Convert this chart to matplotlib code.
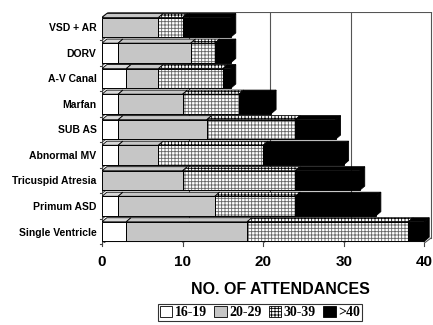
import matplotlib.pyplot as plt
from matplotlib.patches import Polygon, Patch

plt.rcParams['font.family'] = ['Liberation Sans', 'DejaVu Sans']
plt.rcParams['hatch.linewidth'] = 0.6

# attendances per diagnosis, split by age group
diagnoses = ['Single Ventricle', 'Primum ASD', 'Tricuspid Atresia', 'Abnormal MV',
             'SUB AS', 'Marfan', 'A-V Canal', 'DORV', 'VSD + AR']
age_16_19 = [3, 2, 0, 2, 2, 2, 3, 2, 0]
age_20_29 = [15, 12, 10, 5, 11, 8, 4, 9, 7]
age_30_39 = [20, 10, 14, 13, 11, 7, 8, 3, 3]
age_over_40 = [2, 10, 8, 10, 5, 4, 1, 2, 6]
groups = ['16-19', '20-29', '30-39', '>40']
x_ticks = [0, 10, 20, 30, 40]

# face colour / hatch for each age group
styles = [('white', None), ('#c6c6c6', None), ('white', '+++++'), ('black', None)]

H = 0.76          # bar thickness
DX, DY = 0.6, 0.16    # bar depth (3d look)
WX, WY = 0.85, 0.2    # wall depth
X_MAX = 41.07
Y_MIN, Y_MAX = -0.45, 8.6

fig = plt.figure(figsize=(4.33, 3.25), dpi=100)
ax = fig.add_axes([102 / 433, 82 / 325, 331 / 433, 231 / 325])
ax.set_xlim(0, X_MAX)
ax.set_ylim(Y_MIN, Y_MAX)
for s in ax.spines.values():
    s.set_visible(False)

lw = 0.8
# back wall, floor and gridlines
for v in x_ticks[1:]:
    ax.plot([v + WX, v + WX], [Y_MIN + WY, Y_MAX], color='#555555', lw=lw, zorder=1)
    ax.plot([v, v + WX], [Y_MIN, Y_MIN + WY], color='#555555', lw=lw, zorder=1)
ax.plot([WX, 40 + WX], [Y_MAX, Y_MAX], color='#555555', lw=lw, zorder=1)
ax.plot([0, 40], [Y_MIN, Y_MIN], color='#444444', lw=lw, zorder=5)
ax.plot([0, 0], [Y_MIN, Y_MAX - WY], color='#444444', lw=lw, zorder=1)
ax.plot([0, WX], [Y_MAX - WY, Y_MAX], color='#444444', lw=lw, zorder=1)
for i in range(len(diagnoses)):
    b = i - 0.5
    ax.plot([0, WX], [b, b + WY], color='#444444', lw=lw, zorder=1)
    ax.plot([-0.3, 0], [b, b], color='#444444', lw=lw, zorder=1, clip_on=False)
for v in x_ticks:
    ax.plot([v, v], [Y_MIN, Y_MIN - 0.1], color='#444444', lw=lw, zorder=5, clip_on=False)

# stacked 3d bars
series = [age_16_19, age_20_29, age_30_39, age_over_40]
for i in range(len(diagnoses)):
    left = 0
    y0, y1 = i - H / 2, i + H / 2
    for k, vals in enumerate(series):
        w = vals[i]
        if w == 0:
            continue
        face, hatch = styles[k]
        ax.barh(i, w, left=left, height=H, color=face, hatch=hatch,
                edgecolor='#666666' if hatch else face, linewidth=0, zorder=3)
        ax.barh(i, w, left=left, height=H, fill=False, edgecolor='black',
                linewidth=0.7, zorder=4)
        top = Polygon([(left, y1), (left + DX, y1 + DY), (left + w + DX, y1 + DY), (left + w, y1)],
                      facecolor=face if face != 'white' or hatch else '#d9d9d9',
                      hatch=hatch, edgecolor='black', linewidth=0.6, zorder=3)
        ax.add_patch(top)
        left += w
    side = Polygon([(left, y0), (left + DX, y0 + DY), (left + DX, y1 + DY), (left, y1)],
                   facecolor='black', edgecolor='black', linewidth=0.6, zorder=3)
    ax.add_patch(side)

ax.set_yticks(range(len(diagnoses)))
ax.set_yticklabels(diagnoses, fontsize=7.5, fontweight='bold')
ax.set_xticks(x_ticks)
ax.set_xticklabels([str(v) for v in x_ticks], fontsize=11, fontweight='bold')
ax.tick_params(axis='y', length=0, pad=4)
ax.tick_params(axis='x', length=0, pad=9)

fig.text(280 / 433, 1 - 290 / 325, 'NO. OF ATTENDANCES', ha='center', va='center',
         fontsize=11.5, fontweight='bold')

handles = [Patch(facecolor=f, hatch=h, edgecolor='black', linewidth=0.6) for f, h in styles]
leg = fig.legend(handles, groups, loc='upper center', bbox_to_anchor=(260 / 433, 1 - 304 / 325),
                 ncol=4, frameon=True, fancybox=False, handlelength=0.9, handleheight=0.9,
                 handletextpad=0.2, columnspacing=0.5, borderpad=0.12, borderaxespad=0,
                 prop={'family': 'Liberation Serif', 'size': 10, 'weight': 'bold'})
leg.get_frame().set_edgecolor('black')
leg.get_frame().set_linewidth(0.8)

plt.savefig('out.png', dpi=100)
plt.close()
